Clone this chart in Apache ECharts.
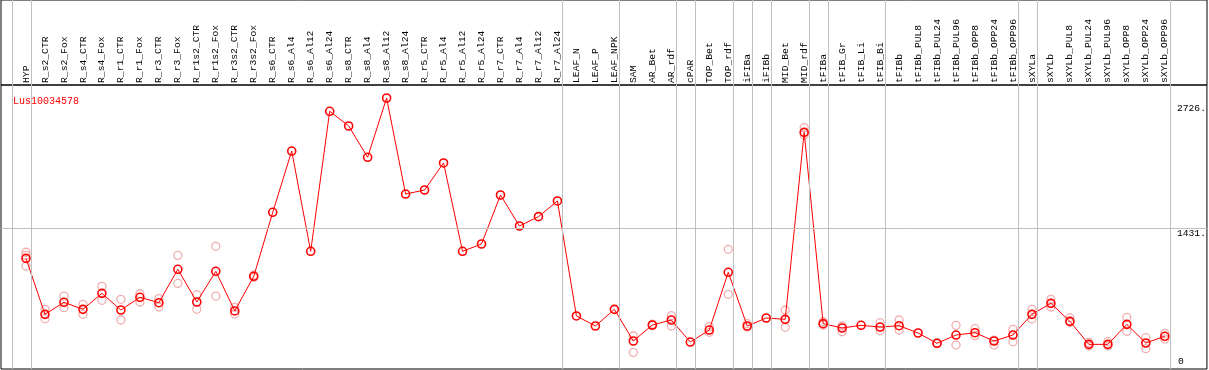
<!DOCTYPE html>
<html>
<head>
<meta charset="utf-8">
<script src="https://cdn.jsdelivr.net/npm/echarts@6/dist/echarts.min.js"></script>
<style>
html,body{margin:0;padding:0;background:#fff;}
#chart{width:1209px;height:370px;}
</style>
</head>
<body>
<div id="chart"></div>
<script>
const categories = ["HYP","R_s2_CTR","R_s2_Fox","R_s4_CTR","R_s4_Fox","R_r1_CTR","R_r1_Fox","R_r3_CTR","R_r3_Fox","R_r1s2_CTR","R_r1s2_Fox","R_r3s2_CTR","R_r3s2_Fox","R_s6_CTR","R_s6_Al4","R_s6_Al12","R_s6_Al24","R_s8_CTR","R_s8_Al4","R_s8_Al12","R_s8_Al24","R_r5_CTR","R_r5_Al4","R_r5_Al12","R_r5_Al24","R_r7_CTR","R_r7_Al4","R_r7_Al12","R_r7_Al24","LEAF_N","LEAF_P","LEAF_NPK","SAM","AR_Bet","AR_rdf","cPAR","TOP_Bet","TOP_rdf","iFIBa","iFIBb","MID_Bet","MID_rdf","tFIBa","tFIB_Gr","tFIB_Li","tFIB_Bi","tFIBb","tFIBb_PUL8","tFIBb_PUL24","tFIBb_PUL96","tFIBb_OPP8","tFIBb_OPP24","tFIBb_OPP96","sXYLa","sXYLb","sXYLb_PUL8","sXYLb_PUL24","sXYLb_PUL96","sXYLb_OPP8","sXYLb_OPP24","sXYLb_OPP96"];

const meanValues = [1119,537,662,589,755,582,714,658,1005,665,984,572,932,1597,2234,1192,2647,2494,2169,2785,1787,1829,2110,1192,1268,1777,1455,1552,1715,520,416,589,260,426,478,249,374,974,416,499,485,2428,440,395,423,405,419,343,236,322,346,260,322,537,651,464,225,225,433,239,309];

const rep1 = [1182,589,727,641,828,693,751,700,1150,741,1244,610,943,null,null,null,null,null,null,null,null,null,null,null,null,null,null,null,null,null,null,null,312,436,523,null,409,1213,440,null,582,2477,461,416,null,450,478,null,240,423,388,270,381,589,693,502,246,253,506,294,340];
const rep2 = [1150,492,606,537,683,478,665,613,859,589,727,540,922,null,null,null,null,null,null,null,null,null,null,null,null,null,null,null,null,null,null,null,142,420,416,null,350,745,405,null,402,2401,426,356,null,367,374,null,232,218,316,218,253,488,613,454,208,208,361,180,281];
const rep3 = [1039];

const yTickValues = [1431, 2726];
const yZeroTick = [0];
const groupBoundaries = [-1,0,28,31,34,35,37,38,39,41,42,45,52,53,60];
const boundaryOffset = 0.27;
const seriesName = "Lus10034578";

const FONT = "Liberation Mono";
const xMin = -1.317, xMax = 62.22;
const yMin = -31, yMax = 2920;

const meanData = meanValues.map((v, i) => [i, v]);
const repData = [];
[rep1, rep2, rep3].forEach(arr => arr.forEach((v, i) => { if (v != null) repData.push([i, v]); }));

const vLines = groupBoundaries.map(b => ({ xAxis: b + boundaryOffset }));
const lineStyleGrey = { color: '#c0c0c0', width: 1, type: 'solid' };

const chart = echarts.init(document.getElementById('chart'), null, { renderer: 'canvas' });
chart.setOption({
  animation: false,
  backgroundColor: '#fff',
  title: {
    text: seriesName, left: 8, top: 91,
    textStyle: { fontFamily: FONT, fontSize: 10, fontWeight: 'normal', color: '#ff0000' }
  },
  grid: [
    { left: 1, right: 2, top: 85, bottom: 1, show: true, borderColor: '#000', borderWidth: 1, backgroundColor: 'transparent' },
    { left: 1, right: 2, top: 0, height: 85, show: true, borderColor: '#000', borderWidth: 1, backgroundColor: 'transparent' }
  ],
  xAxis: [
    {
      type: 'value', gridIndex: 0, min: xMin, max: xMax, position: 'top',
      axisLine: { show: false }, axisTick: { show: false }, splitLine: { show: false },
      axisLabel: {
        customValues: categories.map((c, i) => i),
        formatter: v => categories[Math.round(v)] || '',
        rotate: 90, margin: 2, fontFamily: FONT, fontSize: 9.7, color: '#000'
      }
    },
    {
      type: 'value', gridIndex: 1, min: xMin, max: xMax, show: false
    }
  ],
  yAxis: [
    {
      type: 'value', gridIndex: 0, min: yMin, max: yMax, position: 'right',
      axisLine: { show: false }, axisTick: { show: false }, splitLine: { show: false },
      axisLabel: {
        customValues: yTickValues, inside: true, margin: 30, align: 'left',
        formatter: v => v + '.', verticalAlign: 'top',
        fontFamily: FONT, fontSize: 9.7, color: '#000'
      }
    },
    {
      type: 'value', gridIndex: 0, min: yMin, max: yMax, position: 'right',
      axisLine: { show: false }, axisTick: { show: false }, splitLine: { show: false },
      axisLabel: {
        customValues: yZeroTick, inside: true, margin: 29, align: 'left',
        formatter: v => String(v), verticalAlign: 'bottom',
        fontFamily: FONT, fontSize: 9.7, color: '#000'
      }
    },
    { type: 'value', gridIndex: 1, min: 0, max: 1, show: false }
  ],
  series: [
    {
      type: 'scatter', xAxisIndex: 1, yAxisIndex: 2, data: [], silent: true,
      markLine: { silent: true, symbol: 'none', label: { show: false }, lineStyle: lineStyleGrey, data: vLines, animation: false }
    },
    {
      type: 'scatter', xAxisIndex: 0, yAxisIndex: 0, data: [], silent: true,
      markLine: { silent: true, symbol: 'none', label: { show: false }, lineStyle: lineStyleGrey,
        data: vLines.concat([{ yAxis: 1431 }]), animation: false }
    },
    {
      name: seriesName + ' replicates', type: 'scatter', xAxisIndex: 0, yAxisIndex: 0,
      data: repData, symbol: 'circle', symbolSize: 8, silent: true,
      itemStyle: { color: 'rgba(0,0,0,0)', borderColor: '#ee9a9a', borderWidth: 1.3 }
    },
    {
      name: seriesName, type: 'line', xAxisIndex: 0, yAxisIndex: 0,
      data: meanData, symbol: 'circle', symbolSize: 8, showAllSymbol: true, silent: true,
      lineStyle: { color: '#ff0000', width: 1 },
      itemStyle: { color: 'rgba(0,0,0,0)', borderColor: '#ff0000', borderWidth: 1.6 }
    }
  ]
});
</script>
</body>
</html>
